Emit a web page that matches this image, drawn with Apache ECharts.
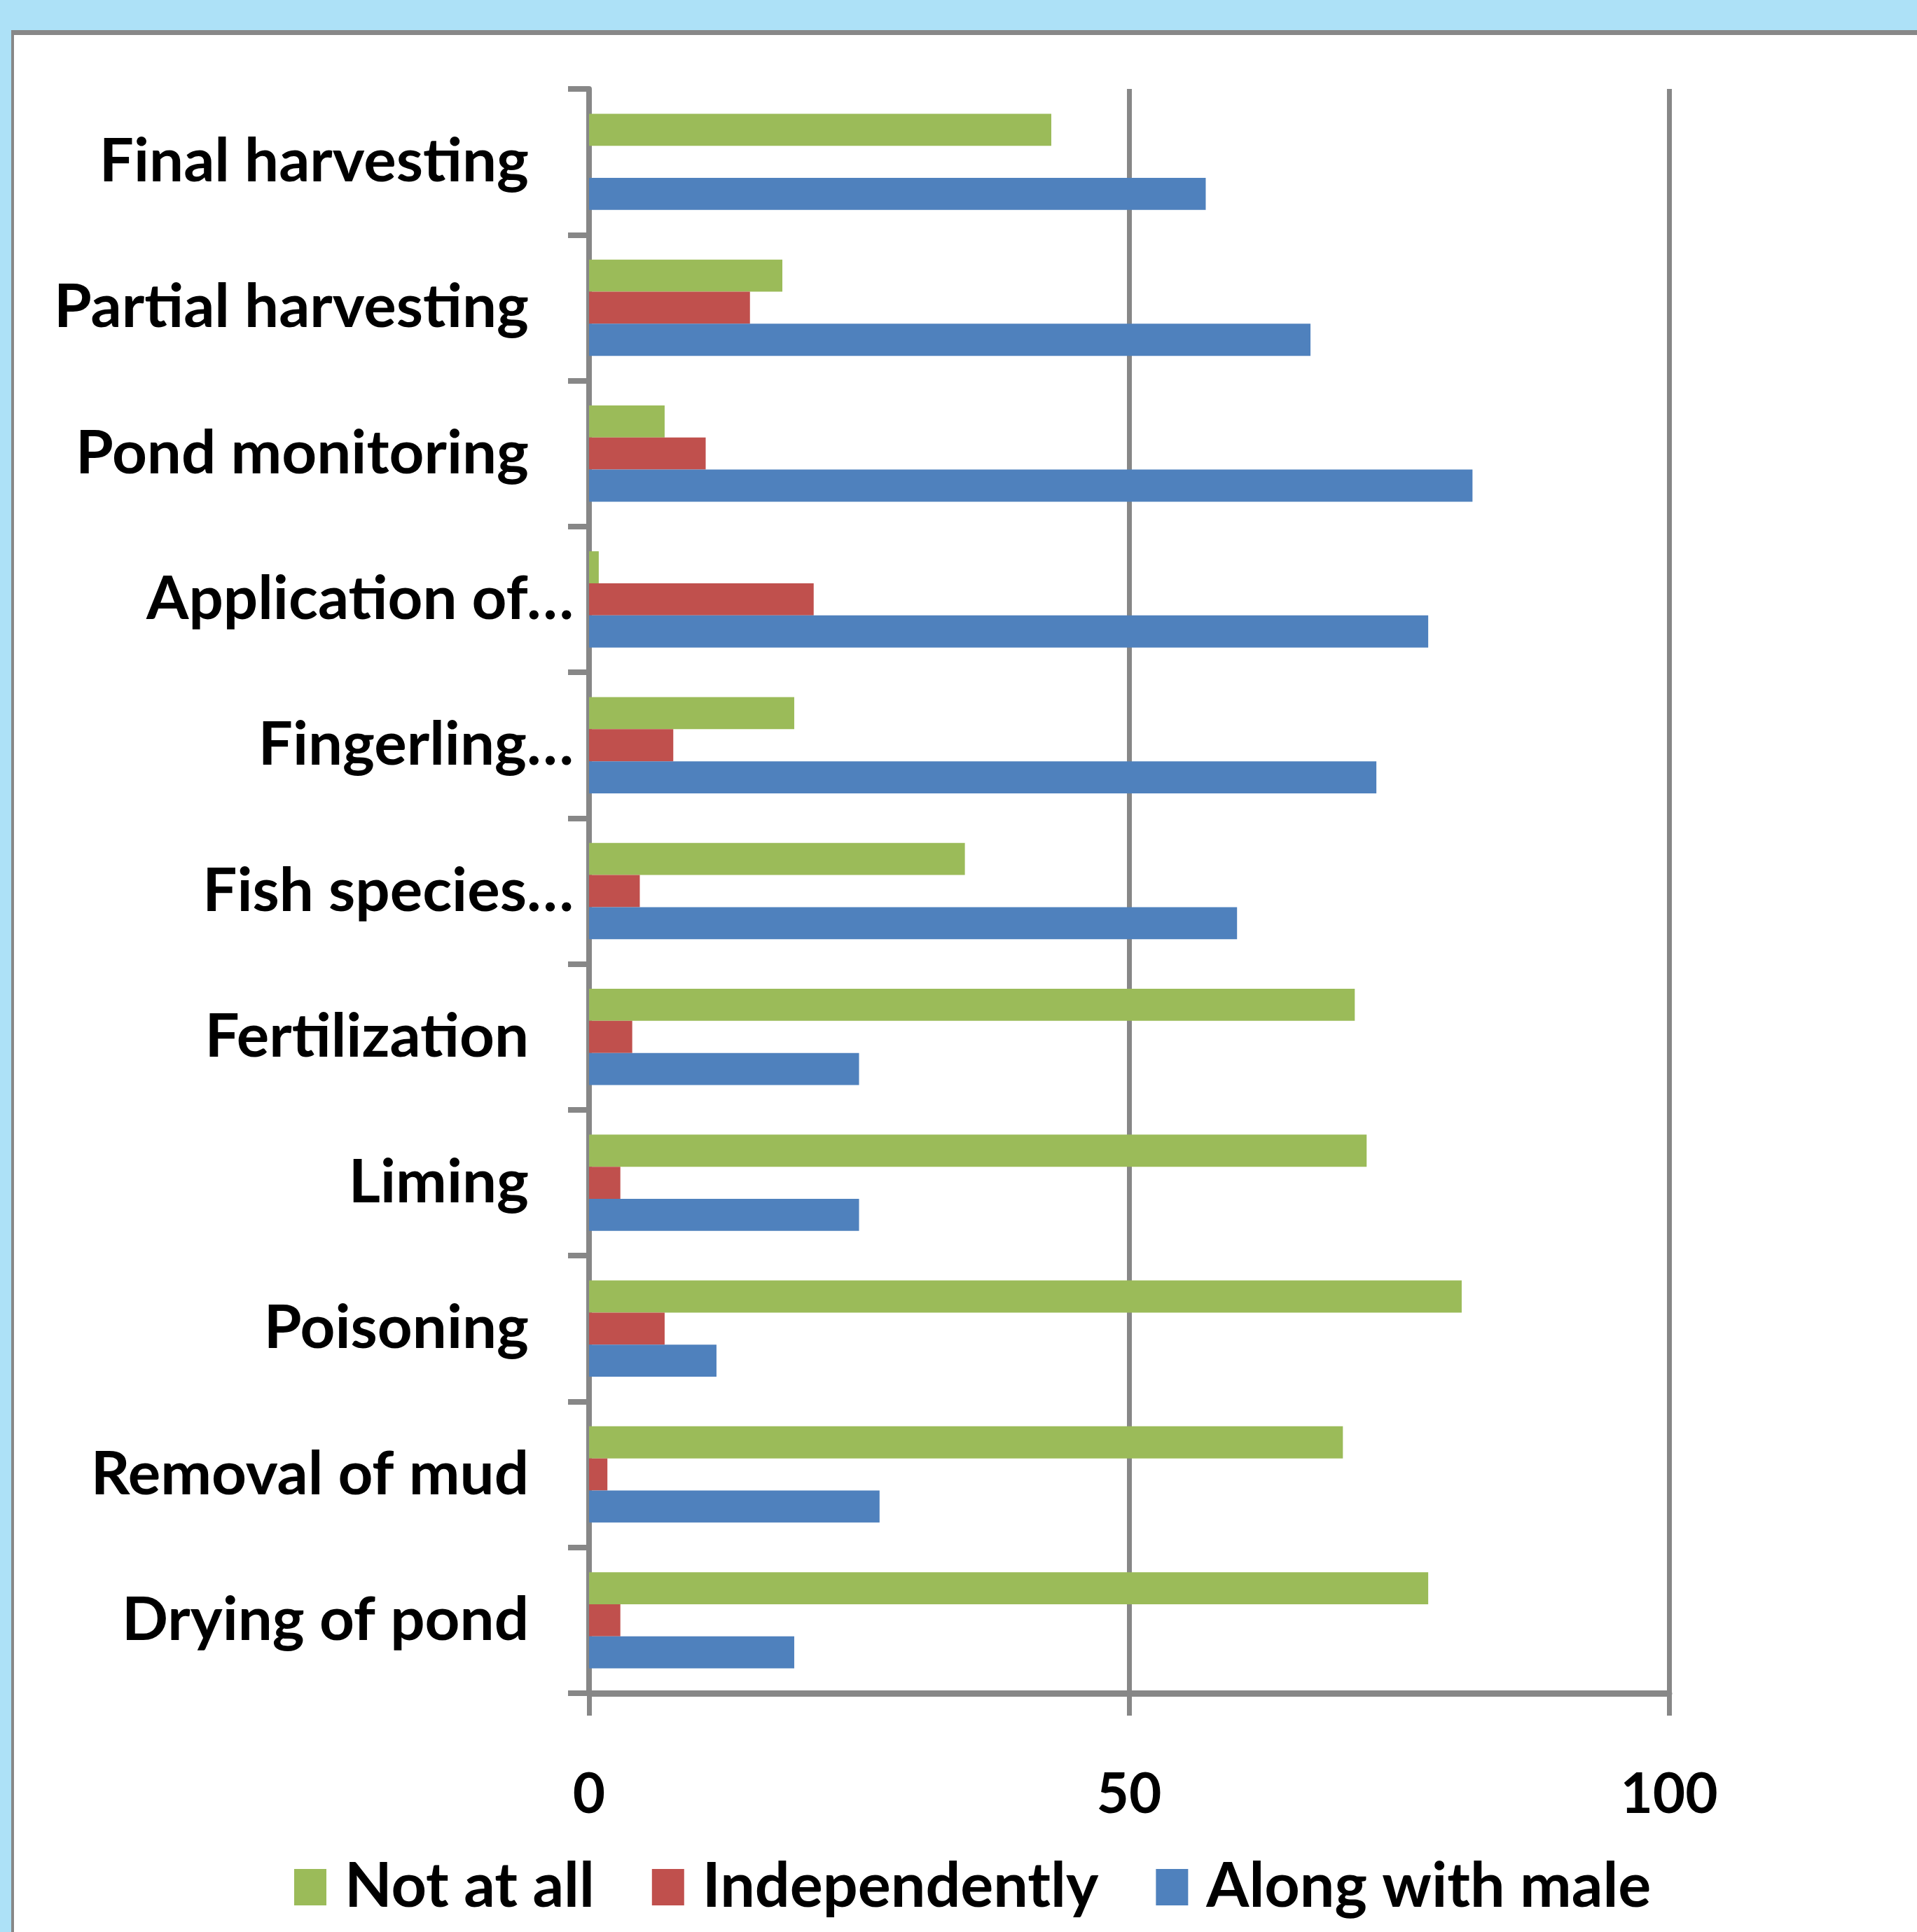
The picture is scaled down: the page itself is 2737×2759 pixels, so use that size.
<!DOCTYPE html>
<html>
<head>
<meta charset="utf-8">
<script src="https://cdn.jsdelivr.net/npm/echarts@6/dist/echarts.min.js"></script>
<style>
  html, body { margin: 0; padding: 0; background: #ade1f7; }
  #panel {
    position: absolute; left: 16px; top: 43px; width: 2740px; height: 2730px;
    background: #ffffff; border-top: 7px solid #888888; border-left: 4px solid #888888;
  }
  #chart { position: absolute; left: 0; top: 0; width: 2737px; height: 2759px; }
</style>
</head>
<body>
<div id="panel"></div>
<div id="chart"></div>
<script>
// categories, top to bottom
const categories = [
  'Final harvesting', 'Partial harvesting', 'Pond monitoring', 'Application of…',
  'Fingerling…', 'Fish species…', 'Fertilization', 'Liming', 'Poisoning',
  'Removal of mud', 'Drying of pond'
];
const notAtAll      = [42.8, 17.9, 7.0, 0.9, 19.0, 34.8, 70.9, 72.0, 80.8, 69.8, 77.7];
const independently = [0,    14.9, 10.8, 20.8, 7.8, 4.7, 4.0, 2.9, 7.0, 1.7, 2.9];
const alongWithMale = [57.1, 66.8, 81.8, 77.7, 72.9, 60.0, 25.0, 25.0, 11.8, 26.9, 19.0];
const xTicks = [0, 50, 100];

const seriesNames = ['Not at all', 'Independently', 'Along with male'];
const colors = ['#9bbb59', '#c0504d', '#4f81bd'];
const gray = '#878787';

const chart = echarts.init(document.getElementById('chart'));
const font = 'Lato, "Open Sans", sans-serif';

const option = {
  backgroundColor: 'transparent',
  animation: false,
  grid: { left: 841, right: 354, top: 127, bottom: 341 },
  legend: {
    data: seriesNames,
    left: 415,
    top: 2646,
    itemWidth: 46,
    itemHeight: 52,
    itemGap: 82,
    icon: 'rect',
    textStyle: { fontFamily: font, fontWeight: 'bold', fontSize: 88, color: '#000', padding: [0, 0, 0, 21] }
  },
  xAxis: {
    type: 'value',
    min: xTicks[0],
    max: xTicks[xTicks.length - 1],
    interval: 50,
    axisLine: { show: true, onZero: false, lineStyle: { color: gray, width: 9 } },
    axisTick: { show: true, length: 32, inside: false, lineStyle: { color: gray, width: 7 } },
    splitLine: { show: true, lineStyle: { color: gray, width: 7 } },
    axisLabel: { margin: 105, fontFamily: font, fontWeight: 'bold', fontSize: 80, color: '#000' }
  },
  yAxis: {
    type: 'category',
    data: categories,
    inverse: true,
    axisLine: { show: true, lineStyle: { color: gray, width: 8 } },
    axisTick: { show: true, length: 30, lineStyle: { color: gray, width: 8 } },
    axisLabel: {
      margin: 22,
      formatter: function (v) {
        return v.indexOf('…') >= 0 ? '{t|' + v + '}' : '{n|' + v + '}';
      },
      rich: {
        n: { fontFamily: font, fontWeight: 'bold', fontSize: 87, color: '#000', padding: [0, 64, 0, 0] },
        t: { fontFamily: font, fontWeight: 'bold', fontSize: 87, color: '#000' }
      }
    }
  },
  series: [notAtAll, independently, alongWithMale].map((d, i) => ({
    name: seriesNames[i],
    type: 'bar',
    data: d,
    barGap: '0%',
    barCategoryGap: '34%',
    itemStyle: { color: colors[i] }
  }))
};
chart.setOption(option);
</script>
</body>
</html>
